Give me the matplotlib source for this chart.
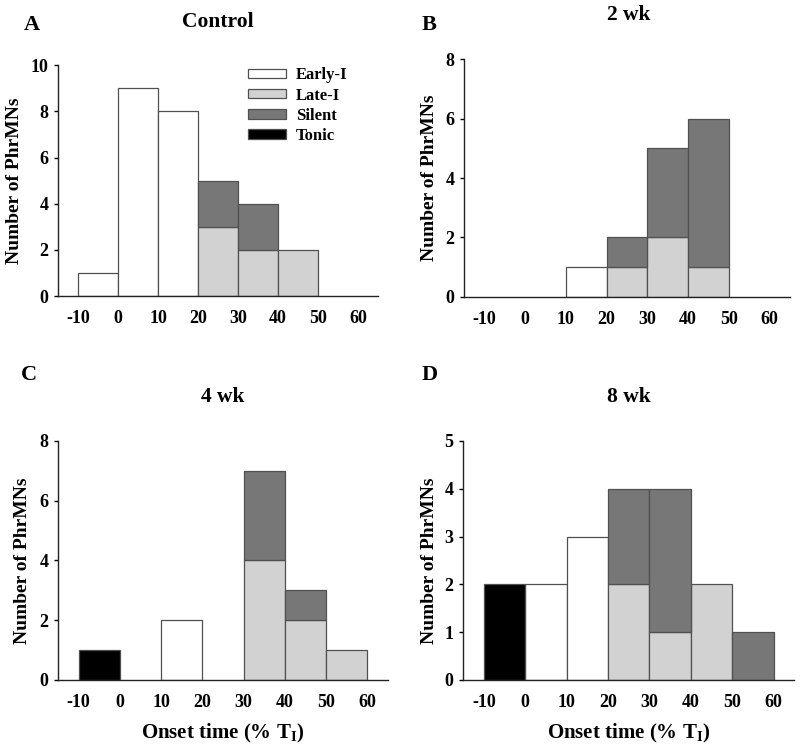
import numpy as np
import matplotlib
matplotlib.use("Agg")
import matplotlib.pyplot as plt
from matplotlib.patches import Patch

plt.rcParams['font.family'] = 'Liberation Serif'
plt.rcParams['font.weight'] = 'bold'
plt.rcParams['axes.unicode_minus'] = False
plt.rcParams['mathtext.fontset'] = 'custom'
plt.rcParams['mathtext.rm'] = 'Liberation Serif:bold'

# ---- data: left edge of each 10 %-bin and counts per firing category ----
bin_left = [-10, 0, 10, 20, 30, 40, 50]
x_ticks = [-10, 0, 10, 20, 30, 40, 50, 60]

control_early = [1, 9, 8, 0, 0, 0, 0]
control_late = [0, 0, 0, 3, 2, 2, 0]
control_silent = [0, 0, 0, 2, 2, 0, 0]
control_tonic = [0, 0, 0, 0, 0, 0, 0]

wk2_early = [0, 0, 1, 0, 0, 0, 0]
wk2_late = [0, 0, 0, 1, 2, 1, 0]
wk2_silent = [0, 0, 0, 1, 3, 5, 0]
wk2_tonic = [0, 0, 0, 0, 0, 0, 0]

wk4_early = [0, 0, 2, 0, 0, 0, 0]
wk4_late = [0, 0, 0, 0, 4, 2, 1]
wk4_silent = [0, 0, 0, 0, 3, 1, 0]
wk4_tonic = [1, 0, 0, 0, 0, 0, 0]

wk8_early = [0, 2, 3, 0, 0, 0, 0]
wk8_late = [0, 0, 0, 2, 1, 2, 0]
wk8_silent = [0, 0, 0, 2, 3, 0, 1]
wk8_tonic = [2, 0, 0, 0, 0, 0, 0]

categories = ['Early-I', 'Late-I', 'Silent', 'Tonic']
colors = ['#ffffff', '#d2d2d2', '#777777', '#000000']
edge = '#505050'

panels = [
    ('A', 'Control', [control_early, control_late, control_silent, control_tonic], 10, 2),
    ('B', '2 wk', [wk2_early, wk2_late, wk2_silent, wk2_tonic], 8, 2),
    ('C', '4 wk', [wk4_early, wk4_late, wk4_silent, wk4_tonic], 8, 2),
    ('D', '8 wk', [wk8_early, wk8_late, wk8_silent, wk8_tonic], 5, 1),
]

# axes rectangles [left, bottom, width, height] in figure fractions
rects = [
    [0.0725, 0.604, 0.400, 0.309],
    [0.580, 0.603, 0.4075, 0.318],
    [0.0725, 0.091, 0.4125, 0.3195],
    [0.579, 0.091, 0.414, 0.3195],
]
ylabel_x = [-0.108, -0.081, -0.081, -0.077]

fig = plt.figure(figsize=(8.0, 7.48), dpi=100)

for (letter, title, series, ymax, ystep), rect, lx in zip(panels, rects, ylabel_x):
    ax = fig.add_axes(rect)
    x = np.array(bin_left, dtype=float)
    bottom = np.zeros(len(bin_left))
    for vals, col in zip(series, colors):
        vals = np.array(vals, dtype=float)
        m = vals > 0
        ax.bar(x[m], vals[m], width=10, bottom=bottom[m], align='edge',
               color=col, edgecolor=edge, linewidth=0.9, zorder=2)
        bottom += vals

    ax.set_xlim(-15, 65)
    ax.set_ylim(0, ymax)
    ax.set_xticks(x_ticks)
    ax.set_yticks(np.arange(0, ymax + 0.1, ystep))
    ax.tick_params(axis='x', length=0, pad=10, labelsize=13)
    ax.tick_params(axis='y', length=3, width=1, direction='out', pad=4, labelsize=13)
    for s in ['top', 'right']:
        ax.spines[s].set_visible(False)
    for s in ['left', 'bottom']:
        ax.spines[s].set_linewidth(1.0)
        ax.spines[s].set_color('#222222')
    ax.set_ylabel('Number of PhrMNs', fontsize=14, fontweight='bold')
    ax.yaxis.set_label_coords(lx, 0.5)
    if letter in ('C', 'D'):
        ax.set_xlabel('Onset time (% T$_\\mathregular{I}$)', fontsize=15,
                      fontweight='bold')
        ax.xaxis.set_label_coords(0.5, -0.175)

    if letter == 'A':
        handles = [Patch(facecolor=c, edgecolor=edge, linewidth=0.9) for c in colors]
        ax.legend(handles, categories, loc='upper left', bbox_to_anchor=(0.594, 0.99),
                  frameon=False, fontsize=12, handlelength=2.3, handleheight=0.5,
                  labelspacing=0.25, handletextpad=0.55, borderpad=0,
                  borderaxespad=0)

# panel titles and letters
fig.text(0.272, 0.971, 'Control', ha='center', va='center', fontsize=15.5, fontweight='bold')
fig.text(0.786, 0.980, '2 wk', ha='center', va='center', fontsize=15.5, fontweight='bold')
fig.text(0.279, 0.469, '4 wk', ha='center', va='center', fontsize=15.5, fontweight='bold')
fig.text(0.786, 0.469, '8 wk', ha='center', va='center', fontsize=15.5, fontweight='bold')

fig.text(0.040, 0.966, 'A', ha='center', va='center', fontsize=16, fontweight='bold')
fig.text(0.536, 0.966, 'B', ha='center', va='center', fontsize=16, fontweight='bold')
fig.text(0.036, 0.498, 'C', ha='center', va='center', fontsize=16, fontweight='bold')
fig.text(0.537, 0.498, 'D', ha='center', va='center', fontsize=16, fontweight='bold')

fig.savefig('out.png', dpi=100)
